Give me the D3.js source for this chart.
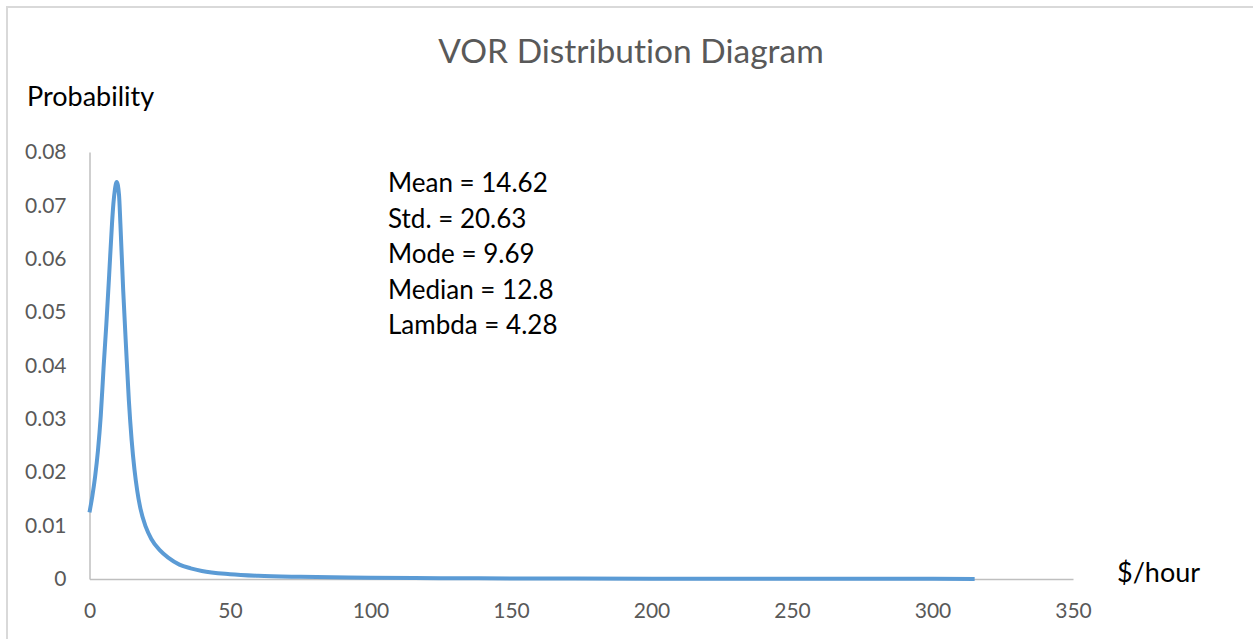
<!DOCTYPE html>
<html>
<head>
<meta charset="utf-8">
<script src="https://cdn.jsdelivr.net/npm/d3@7"></script>
<style>
  body { margin: 0; background: #fff; }
  text { font-family: Lato, "Open Sans", sans-serif; font-variant-ligatures: none; }
</style>
</head>
<body>
<div id="chart"></div>
<script>
// values
const xValues = [0, 1, 2, 3, 4, 5, 6, 7, 8, 8.5, 9, 9.69, 10.5, 11, 12, 13, 14, 15, 16, 17, 18, 20, 22, 25, 28, 32, 36, 40, 50, 60, 75, 100, 125, 150, 200, 250, 300, 315];
const yValues = [0.0125, 0.0155, 0.0192, 0.0240, 0.0305, 0.0395, 0.0478, 0.0570, 0.0665, 0.0703, 0.0728, 0.0744, 0.0720, 0.0665, 0.0540, 0.0435, 0.0335, 0.0260, 0.0205, 0.0165, 0.0135, 0.0098, 0.0075, 0.0054, 0.0040, 0.0027, 0.0020, 0.0015, 0.0009, 0.0006, 0.0004, 0.00025, 0.00016, 0.00011, 0.00006, 0.00004, 0.00003, 0.00002];
const xTicks = [0, 50, 100, 150, 200, 250, 300, 350];
const yTicks = [0, 0.01, 0.02, 0.03, 0.04, 0.05, 0.06, 0.07, 0.08];
const stats = ["Mean = 14.62", "Std. = 20.63", "Mode = 9.69", "Median = 12.8", "Lambda = 4.28"];

const W = 1253, H = 639;
const svg = d3.select("#chart").append("svg")
  .attr("width", W)
  .attr("height", H);

// outer chart border
svg.append("rect")
  .attr("x", 7).attr("y", 7)
  .attr("width", W + 10).attr("height", H + 10)
  .style("fill", "none")
  .style("stroke", "#d9d9d9")
  .style("stroke-width", 2);

const x = d3.scaleLinear().domain([0, 350]).range([89.5, 1073]);
const y = d3.scaleLinear().domain([0, 0.08]).range([579, 152]);

// axes
const xAxis = svg.append("g")
  .attr("transform", `translate(0,${y(0)})`)
  .call(d3.axisBottom(x).tickValues(xTicks).tickSize(0).tickPadding(24).tickFormat(d3.format("d")));
const yAxis = svg.append("g")
  .attr("transform", `translate(${x(0)},0)`)
  .call(d3.axisLeft(y).tickValues(yTicks).tickSize(0).tickPadding(23).tickFormat(d => d === 0 ? "0" : d3.format(".2f")(d)));

[xAxis, yAxis].forEach(g => {
  g.select(".domain").style("stroke", "#bfbfbf").style("stroke-width", 1.5);
  g.selectAll("text")
    .style("font-family", "Lato, 'Open Sans', sans-serif")
    .style("font-size", "21px")
    .style("fill", "#595959");
});
xAxis.selectAll("text").attr("dy", "0.71em");

// the distribution curve
const pts = xValues.map((v, i) => [v, yValues[i]]);
svg.append("path")
  .datum(pts)
  .attr("d", d3.line().x(d => x(d[0])).y(d => y(d[1])).curve(d3.curveMonotoneX))
  .style("fill", "none")
  .style("stroke", "#5b9bd5")
  .style("stroke-width", 4)
  .style("stroke-linejoin", "round");

// title and axis labels
svg.append("text")
  .attr("x", 631).attr("y", 63)
  .attr("text-anchor", "middle")
  .style("font-size", "33.5px")
  .style("fill", "#595959")
  .text("VOR Distribution Diagram");

svg.append("text")
  .attr("x", 27).attr("y", 106)
  .style("font-size", "27px")
  .style("fill", "#000")
  .text("Probability");

svg.append("text")
  .attr("x", 1117).attr("y", 582)
  .style("font-size", "27px")
  .style("fill", "#000")
  .text("$/hour");

// stats annotation
svg.append("g").selectAll("text")
  .data(stats)
  .join("text")
  .attr("x", 388)
  .attr("y", (d, i) => 192 + i * 35.5)
  .style("font-size", "26px")
  .style("fill", "#000")
  .text(d => d);
</script>
</body>
</html>
